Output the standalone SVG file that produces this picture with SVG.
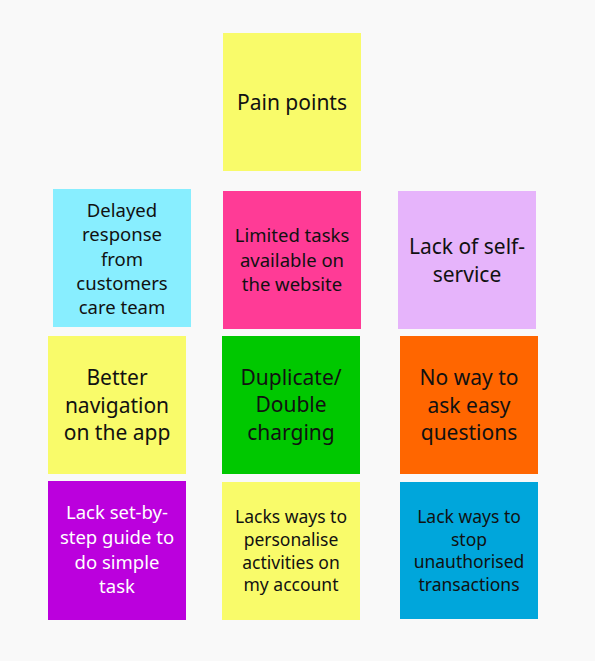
<svg xmlns="http://www.w3.org/2000/svg" width="595" height="661" viewBox="0 0 595 661">
<style>
  text { font-family: "Noto Sans", "Open Sans", "Liberation Sans", sans-serif; text-anchor: middle; fill: #111111; }
  .l { font-size: 21px; }
  .m { font-size: 18.5px; }
  .s { font-size: 17.5px; }
  .w { fill: #ffffff; }
</style>
<rect x="0" y="0" width="595" height="661" fill="#f9f9f9"/>
<g id="pain-points">
  <rect x="223" y="33" width="138" height="138" fill="#f9fb6a"/>
  <text class="l" x="292" y="110">Pain points</text>
</g>
<g id="delayed-response">
  <rect x="53" y="189" width="138" height="138" fill="#88eeff"/>
  <text class="m" x="122" y="217">Delayed</text>
  <text class="m" x="122" y="241">response</text>
  <text class="m" x="122" y="266">from</text>
  <text class="m" x="122" y="290">customers</text>
  <text class="m" x="122" y="314">care team</text>
</g>
<g id="limited-tasks">
  <rect x="223" y="191" width="138" height="138" fill="#ff3b96"/>
  <text class="m" x="292" y="242">Limited tasks</text>
  <text class="m" x="292" y="267">available on</text>
  <text class="m" x="292" y="291">the website</text>
</g>
<g id="lack-self-service">
  <rect x="398" y="191" width="138" height="138" fill="#e6b4fb"/>
  <text class="l" x="467" y="254">Lack of self-</text>
  <text class="l" x="467" y="282">service</text>
</g>
<g id="better-navigation">
  <rect x="48" y="336" width="138" height="138" fill="#f9fb6a"/>
  <text class="l" x="117" y="385">Better</text>
  <text class="l" x="117" y="413">navigation</text>
  <text class="l" x="117" y="440">on the app</text>
</g>
<g id="duplicate-charging">
  <rect x="222" y="336" width="138" height="138" fill="#00c800"/>
  <text class="l" x="291" y="385">Duplicate/</text>
  <text class="l" x="291" y="412">Double</text>
  <text class="l" x="291" y="440">charging</text>
</g>
<g id="no-way-to-ask">
  <rect x="400" y="336" width="138" height="138" fill="#ff6600"/>
  <text class="l" x="469" y="385">No way to</text>
  <text class="l" x="469" y="413">ask easy</text>
  <text class="l" x="469" y="440">questions</text>
</g>
<g id="lack-step-guide">
  <rect x="48" y="481" width="138" height="139" fill="#bb00dd"/>
  <text class="m w" x="117" y="519">Lack set-by-</text>
  <text class="m w" x="117" y="544">step guide to</text>
  <text class="m w" x="117" y="569">do simple</text>
  <text class="m w" x="117" y="593">task</text>
</g>
<g id="lacks-personalise">
  <rect x="222" y="482" width="138" height="138" fill="#f9fb6a"/>
  <text class="s" x="291" y="523">Lacks ways to</text>
  <text class="s" x="291" y="546">personalise</text>
  <text class="s" x="291" y="569">activities on</text>
  <text class="s" x="291" y="591">my account</text>
</g>
<g id="lack-stop-unauthorised">
  <rect x="400" y="482" width="138" height="137" fill="#00a6db"/>
  <text class="s" x="469" y="523">Lack ways to</text>
  <text class="s" x="469" y="546">stop</text>
  <text class="s" x="469" y="568">unauthorised</text>
  <text class="s" x="469" y="591">transactions</text>
</g>
<g id="connectors"/>
</svg>
